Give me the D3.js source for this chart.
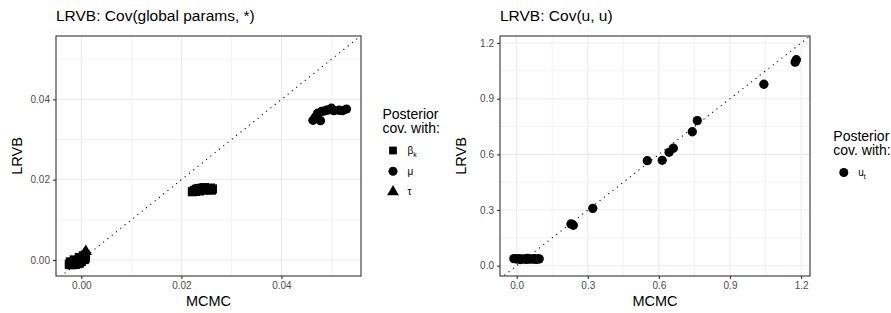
<!DOCTYPE html>
<html>
<head>
<meta charset="utf-8">
<script src="https://cdn.jsdelivr.net/npm/d3@7"></script>
<style>
  body { margin: 0; background: #fff; }
  svg { font-family: "Liberation Sans", Arial, sans-serif; }
</style>
</head>
<body>
<svg id="chart" width="891" height="313"></svg>
<script>
// left panel: LRVB vs MCMC covariances with global params
const betaMcmc = [-0.0024, -0.0020, -0.0016, -0.0012, -0.0008, -0.0004, -0.0018, -0.0010, -0.0006, -0.0002, 0.0000, 0.0002, 0.0004, 0.0006, 0.0008, 0.0000,
  -0.0022, -0.0014, -0.0004, 0.0004, 0.0008,
  0.0222, 0.0226, 0.0230, 0.0234, 0.0238, 0.0242, 0.0246, 0.0250, 0.0254, 0.0258, 0.0262, 0.0228, 0.0236, 0.0244, 0.0252, 0.0260];
const betaLrvb = [-0.0011, -0.0012, -0.0010, -0.0011, -0.0009, -0.0008, -0.0006, -0.0004, -0.0001, 0.0002, 0.0004, 0.0006, 0.0003, 0.0001, 0.0005, -0.0004,
  -0.0005, 0.0000, 0.0006, 0.0010, 0.0012,
  0.0170, 0.0173, 0.0176, 0.0178, 0.0177, 0.0179, 0.0180, 0.0178, 0.0177, 0.0179, 0.0177, 0.0171, 0.0172, 0.0174, 0.0175, 0.0174];
const muMcmc = [0.0004, 0.0008, 0.0463, 0.0478, 0.0468, 0.0472, 0.0480, 0.0490, 0.0500, 0.0505, 0.0515, 0.0522, 0.0530, 0.0485, 0.0495];
const muLrvb = [0.0008, 0.0010, 0.0348, 0.0347, 0.0356, 0.0365, 0.0370, 0.0373, 0.0378, 0.0372, 0.0373, 0.0372, 0.0376, 0.0371, 0.0374];
const tauMcmc = [0.0006, 0.0009];
const tauLrvb = [0.0015, 0.0021];

// right panel: Cov(u, u)
const uMcmc = [-0.012, 0.000, 0.010, 0.020, 0.030, 0.040, 0.050, 0.060, 0.070, 0.080, 0.090, 0.095, 0.015, 0.045, 0.075,
  0.229, 0.239, 0.321, 0.551, 0.614, 0.643, 0.661, 0.741, 0.762, 1.043, 1.175, 1.180];
const uLrvb = [0.038, 0.036, 0.038, 0.035, 0.037, 0.034, 0.036, 0.035, 0.037, 0.034, 0.036, 0.037, 0.033, 0.039, 0.038,
  0.225, 0.218, 0.309, 0.566, 0.568, 0.611, 0.633, 0.722, 0.782, 0.978, 1.097, 1.110];

const leftTicks = [0, 0.02, 0.04];
const leftMinor = [0.01, 0.03, 0.05];
const rightTicks = [0, 0.3, 0.6, 0.9, 1.2];
const rightMinor = [0.15, 0.45, 0.75, 1.05];

const svg = d3.select('#chart');

function panel(cfg) {
  const x = d3.scaleLinear().domain(cfg.xDomain).range([cfg.left, cfg.right]);
  const y = d3.scaleLinear().domain(cfg.yDomain).range([cfg.bottom, cfg.top]);
  const g = svg.append('g');

  g.append('text')
    .attr('x', cfg.left).attr('y', 21)
    .style('font-size', '15.5px')
    .text(cfg.title);

  g.append('rect')
    .attr('x', cfg.left).attr('y', cfg.top)
    .attr('width', cfg.right - cfg.left).attr('height', cfg.bottom - cfg.top)
    .attr('fill', '#fff');

  // grid
  cfg.minor.forEach(v => {
    g.append('line').attr('x1', x(v)).attr('x2', x(v)).attr('y1', cfg.top).attr('y2', cfg.bottom)
      .attr('stroke', '#ebebeb').attr('stroke-width', 0.6);
    g.append('line').attr('y1', y(v)).attr('y2', y(v)).attr('x1', cfg.left).attr('x2', cfg.right)
      .attr('stroke', '#ebebeb').attr('stroke-width', 0.6);
  });
  cfg.ticks.forEach(v => {
    g.append('line').attr('x1', x(v)).attr('x2', x(v)).attr('y1', cfg.top).attr('y2', cfg.bottom)
      .attr('stroke', '#ebebeb').attr('stroke-width', 1.1);
    g.append('line').attr('y1', y(v)).attr('y2', y(v)).attr('x1', cfg.left).attr('x2', cfg.right)
      .attr('stroke', '#ebebeb').attr('stroke-width', 1.1);
  });

  const clipId = 'clip' + cfg.id;
  svg.append('clipPath').attr('id', clipId).append('rect')
    .attr('x', cfg.left).attr('y', cfg.top)
    .attr('width', cfg.right - cfg.left).attr('height', cfg.bottom - cfg.top);

  // y = x reference
  const lo = Math.min(cfg.xDomain[0], cfg.yDomain[0]);
  const hi = Math.max(cfg.xDomain[1], cfg.yDomain[1]);
  g.append('line')
    .attr('clip-path', `url(#${clipId})`)
    .attr('x1', x(lo)).attr('y1', y(lo)).attr('x2', x(hi)).attr('y2', y(hi))
    .attr('stroke', '#000').attr('stroke-width', 1.1)
    .attr('stroke-dasharray', '1.1,4.4');

  const pts = g.append('g').attr('clip-path', `url(#${clipId})`);
  cfg.series.forEach(s => {
    pts.selectAll(null)
      .data(d3.zip(s.xs, s.ys))
      .enter()
      .append('path')
      .attr('transform', d => `translate(${x(d[0])},${y(d[1])})`)
      .attr('d', d3.symbol().type(s.shape).size(s.size))
      .attr('fill', '#000');
  });

  g.append('rect')
    .attr('x', cfg.left).attr('y', cfg.top)
    .attr('width', cfg.right - cfg.left).attr('height', cfg.bottom - cfg.top)
    .attr('fill', 'none').attr('stroke', '#333').attr('stroke-width', 1.1);

  const xAxis = d3.axisBottom(x).tickValues(cfg.ticks).tickFormat(cfg.fmt).tickSize(3).tickPadding(3);
  const yAxis = d3.axisLeft(y).tickValues(cfg.ticks).tickFormat(cfg.fmt).tickSize(3).tickPadding(3);

  [g.append('g').attr('transform', `translate(0,${cfg.bottom})`).call(xAxis),
   g.append('g').attr('transform', `translate(${cfg.left},0)`).call(yAxis)].forEach(a => {
    a.select('.domain').remove();
    a.selectAll('line').attr('stroke', '#333').attr('stroke-width', 1.1);
    a.selectAll('text').attr('fill', '#4d4d4d').style('font-size', '10px')
      .style('font-family', '"Liberation Sans", Arial, sans-serif');
  });

  g.append('text')
    .attr('x', (cfg.left + cfg.right) / 2).attr('y', 306)
    .attr('text-anchor', 'middle').style('font-size', '14.5px')
    .text('MCMC');

  g.append('text')
    .attr('transform', `translate(${cfg.left - 34.5},${(cfg.top + cfg.bottom) / 2}) rotate(-90)`)
    .attr('text-anchor', 'middle').style('font-size', '14.5px')
    .text('LRVB');

  // legend
  const lg = g.append('g').attr('transform', `translate(${cfg.legendX},${cfg.legendY})`);
  lg.append('text').attr('x', 0).attr('y', 0).style('font-size', '14px').text('Posterior');
  lg.append('text').attr('x', 0).attr('y', 14.5).style('font-size', '14px').text('cov. with:');
  cfg.legend.forEach((item, i) => {
    const cy = 32 + i * 20.7;
    lg.append('path')
      .attr('transform', `translate(10.5,${cy})`)
      .attr('d', d3.symbol().type(item.shape).size(item.size))
      .attr('fill', '#000');
    const t = lg.append('text').attr('x', 25).attr('y', cy + 3.5).style('font-size', '10px');
    t.append('tspan').text(item.label);
    if (item.sub) {
      t.append('tspan').attr('dy', 2.5).style('font-size', '7px').text(item.sub);
    }
  });
}

panel({
  id: 'L', title: 'LRVB: Cov(global params, *)',
  left: 56, right: 361, top: 36, bottom: 276,
  xDomain: [-0.00506, 0.0559], yDomain: [-0.0040, 0.0558],
  ticks: leftTicks, minor: leftMinor, fmt: d3.format('.2f'),
  series: [
    { xs: betaMcmc, ys: betaLrvb, shape: d3.symbolSquare, size: 84 },
    { xs: muMcmc, ys: muLrvb, shape: d3.symbolCircle, size: 68 },
    { xs: tauMcmc, ys: tauLrvb, shape: d3.symbolTriangle, size: 66 }
  ],
  legendX: 382.5, legendY: 118.5,
  legend: [
    { shape: d3.symbolSquare, size: 60, label: 'β', sub: 'k' },
    { shape: d3.symbolCircle, size: 64, label: 'μ' },
    { shape: d3.symbolTriangle, size: 60, label: 'τ' }
  ]
});

panel({
  id: 'R', title: 'LRVB: Cov(u, u)',
  left: 500, right: 810, top: 36, bottom: 276,
  xDomain: [-0.0705, 1.2376], yDomain: [-0.0555, 1.238],
  ticks: rightTicks, minor: rightMinor, fmt: d3.format('.1f'),
  series: [
    { xs: uMcmc, ys: uLrvb, shape: d3.symbolCircle, size: 68 }
  ],
  legendX: 833.3, legendY: 140.5,
  legend: [
    { shape: d3.symbolCircle, size: 64, label: 'u', sub: 't' }
  ]
});
</script>
</body>
</html>
